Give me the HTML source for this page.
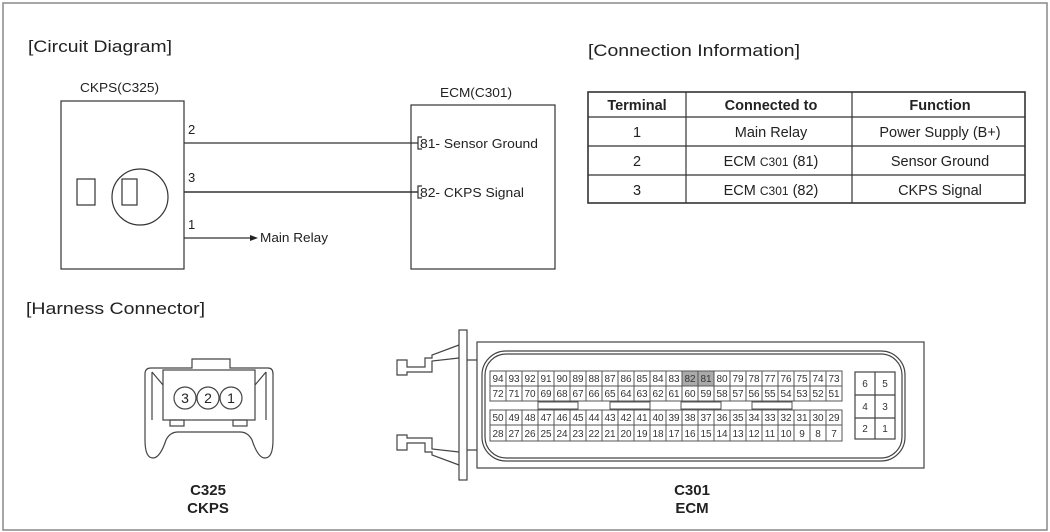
<!DOCTYPE html>
<html><head><meta charset="utf-8"><style>
html,body{margin:0;padding:0;background:#fff;}
svg{display:block;font-family:"Liberation Sans",sans-serif;}
</style></head><body>
<svg width="1050" height="532" viewBox="0 0 1050 532" xmlns="http://www.w3.org/2000/svg">
<rect x="3" y="3" width="1044" height="527" fill="#fff" stroke="#888" stroke-width="1.5"/>
<g fill="#222" font-size="17">
<text x="28" y="52" textLength="144" lengthAdjust="spacingAndGlyphs">[Circuit Diagram]</text>
<text x="588" y="56" textLength="212" lengthAdjust="spacingAndGlyphs">[Connection Information]</text>
<text x="26" y="314" textLength="179" lengthAdjust="spacingAndGlyphs">[Harness Connector]</text>
</g>
<!-- circuit -->
<g stroke="#333" fill="none" stroke-width="1.2">
<rect x="61" y="101" width="123" height="168"/>
<rect x="411" y="105" width="144" height="164"/>
<rect x="77" y="179" width="18" height="26"/>
<circle cx="140" cy="197" r="28"/>
<rect x="122" y="179" width="15" height="26"/>
<line x1="184" y1="143" x2="418" y2="143"/>
<line x1="184" y1="192" x2="418" y2="192" stroke-width="1.6"/>
<line x1="184" y1="238" x2="252" y2="238"/>
<path d="M422 137 H418 V149 H422"/>
<path d="M422 186 H418 V198 H422"/>
</g>
<polygon points="258,238 250,235 250,241" fill="#222"/>
<g fill="#222" font-size="13">
<text x="80" y="92" textLength="79" lengthAdjust="spacingAndGlyphs">CKPS(C325)</text>
<text x="440" y="97" textLength="72" lengthAdjust="spacingAndGlyphs">ECM(C301)</text>
<text x="188" y="134">2</text>
<text x="188" y="182">3</text>
<text x="188" y="229">1</text>
<text x="260" y="242" textLength="68" lengthAdjust="spacingAndGlyphs">Main Relay</text>
<text x="420" y="148" textLength="118" lengthAdjust="spacingAndGlyphs">81- Sensor Ground</text>
<text x="420" y="197" textLength="104" lengthAdjust="spacingAndGlyphs">82- CKPS Signal</text>
</g>
<!-- table -->
<g stroke="#333" fill="none" stroke-width="1.2">
<rect x="588" y="92" width="437" height="111" stroke-width="1.6"/>
<line x1="588" y1="117" x2="1025" y2="117"/>
<line x1="588" y1="146" x2="1025" y2="146"/>
<line x1="588" y1="175" x2="1025" y2="175"/>
<line x1="686" y1="92" x2="686" y2="203"/>
<line x1="852" y1="92" x2="852" y2="203"/>
</g>
<g fill="#222" font-size="14.5" text-anchor="middle">
<g font-weight="bold"><text x="637" y="110">Terminal</text><text x="771" y="110">Connected to</text><text x="940" y="110">Function</text></g>
<text x="637" y="137">1</text><text x="771" y="137">Main Relay</text><text x="940" y="137">Power Supply (B+)</text>
<text x="637" y="166">2</text><text x="771" y="166">ECM <tspan font-size="12">C301</tspan> (81)</text><text x="940" y="166">Sensor Ground</text>
<text x="637" y="195">3</text><text x="771" y="195">ECM <tspan font-size="12">C301</tspan> (82)</text><text x="940" y="195">CKPS Signal</text>
</g>
<!-- CKPS connector -->
<g stroke="#444" fill="none" stroke-width="1.2">
<path d="M192 368 V359 H230 V368 H268 Q273 368 273 374 V440 Q273 458 265 458 Q258 458 252 440 Q248 432 240 432 H178 Q170 432 166 440 Q160 458 153 458 Q145 458 145 440 V374 Q145 368 151 368 Z"/>
<rect x="163" y="370" width="92" height="50"/>
<line x1="152" y1="372" x2="163" y2="385"/><line x1="152" y1="372" x2="152" y2="420"/>
<line x1="266" y1="372" x2="255" y2="385"/><line x1="266" y1="372" x2="266" y2="420"/>
<rect x="170" y="420" width="14" height="6"/><rect x="233" y="420" width="14" height="6"/>
<circle cx="185" cy="398" r="11"/><circle cx="208" cy="398" r="11"/><circle cx="231" cy="398" r="11"/>
</g>
<g fill="#222" font-size="14" text-anchor="middle"><text x="185" y="403">3</text><text x="208" y="403">2</text><text x="231" y="403">1</text></g>
<g fill="#222" font-size="15" font-weight="bold" text-anchor="middle">
<text x="208" y="495">C325</text><text x="208" y="513">CKPS</text>
<text x="692" y="495">C301</text><text x="692" y="513">ECM</text>
</g>
<!-- ECM connector -->
<g stroke="#444" fill="none" stroke-width="1.2">
<rect x="459" y="330" width="8" height="150"/>
<path d="M459 345 L432 355 V358 H425 V367 H407 V360 H397 V375 H407 V372 H432 V361 L459 358"/>
<path d="M459 465 L432 455 V452 H425 V443 H407 V450 H397 V435 H407 V438 H432 V449 L459 452"/>
<path d="M467 360 H477 M467 450 H477"/>
<rect x="477" y="342" width="447" height="126"/>
<rect x="482" y="351" width="423" height="110" rx="24"/>
<rect x="485" y="354" width="417" height="104" rx="21"/>
<rect x="855" y="372" width="40" height="67"/>
<line x1="875" y1="372" x2="875" y2="439"/><line x1="855" y1="395" x2="895" y2="395"/><line x1="855" y1="418" x2="895" y2="418"/>
</g>
<rect x="682" y="371" width="32" height="15" fill="#aaa"/>
<g stroke="#555" fill="none" stroke-width="1">
<rect x="490" y="371" width="352" height="30"/>
<line x1="490" y1="386" x2="842" y2="386"/>
<rect x="490" y="410" width="352" height="31"/>
<line x1="490" y1="425" x2="842" y2="425"/>
<path d="M506 371V401M522 371V401M538 371V401M554 371V401M570 371V401M586 371V401M602 371V401M618 371V401M634 371V401M650 371V401M666 371V401M682 371V401M698 371V401M714 371V401M730 371V401M746 371V401M762 371V401M778 371V401M794 371V401M810 371V401M826 371V401"/>
<path d="M506 410V441M522 410V441M538 410V441M554 410V441M570 410V441M586 410V441M602 410V441M618 410V441M634 410V441M650 410V441M666 410V441M682 410V441M698 410V441M714 410V441M730 410V441M746 410V441M762 410V441M778 410V441M794 410V441M810 410V441M826 410V441"/>
<rect x="538" y="402" width="40" height="7"/><rect x="610" y="402" width="40" height="7"/><rect x="681" y="402" width="40" height="7"/><rect x="752" y="402" width="40" height="7"/>
</g>
<g fill="#333" font-size="10" text-anchor="middle">
<text x="498" y="382">94</text><text x="514" y="382">93</text><text x="530" y="382">92</text><text x="546" y="382">91</text><text x="562" y="382">90</text><text x="578" y="382">89</text><text x="594" y="382">88</text><text x="610" y="382">87</text><text x="626" y="382">86</text><text x="642" y="382">85</text><text x="658" y="382">84</text><text x="674" y="382">83</text><text x="690" y="382">82</text><text x="706" y="382">81</text><text x="722" y="382">80</text><text x="738" y="382">79</text><text x="754" y="382">78</text><text x="770" y="382">77</text><text x="786" y="382">76</text><text x="802" y="382">75</text><text x="818" y="382">74</text><text x="834" y="382">73</text>
<text x="498" y="397">72</text><text x="514" y="397">71</text><text x="530" y="397">70</text><text x="546" y="397">69</text><text x="562" y="397">68</text><text x="578" y="397">67</text><text x="594" y="397">66</text><text x="610" y="397">65</text><text x="626" y="397">64</text><text x="642" y="397">63</text><text x="658" y="397">62</text><text x="674" y="397">61</text><text x="690" y="397">60</text><text x="706" y="397">59</text><text x="722" y="397">58</text><text x="738" y="397">57</text><text x="754" y="397">56</text><text x="770" y="397">55</text><text x="786" y="397">54</text><text x="802" y="397">53</text><text x="818" y="397">52</text><text x="834" y="397">51</text>
<text x="498" y="421">50</text><text x="514" y="421">49</text><text x="530" y="421">48</text><text x="546" y="421">47</text><text x="562" y="421">46</text><text x="578" y="421">45</text><text x="594" y="421">44</text><text x="610" y="421">43</text><text x="626" y="421">42</text><text x="642" y="421">41</text><text x="658" y="421">40</text><text x="674" y="421">39</text><text x="690" y="421">38</text><text x="706" y="421">37</text><text x="722" y="421">36</text><text x="738" y="421">35</text><text x="754" y="421">34</text><text x="770" y="421">33</text><text x="786" y="421">32</text><text x="802" y="421">31</text><text x="818" y="421">30</text><text x="834" y="421">29</text>
<text x="498" y="437">28</text><text x="514" y="437">27</text><text x="530" y="437">26</text><text x="546" y="437">25</text><text x="562" y="437">24</text><text x="578" y="437">23</text><text x="594" y="437">22</text><text x="610" y="437">21</text><text x="626" y="437">20</text><text x="642" y="437">19</text><text x="658" y="437">18</text><text x="674" y="437">17</text><text x="690" y="437">16</text><text x="706" y="437">15</text><text x="722" y="437">14</text><text x="738" y="437">13</text><text x="754" y="437">12</text><text x="770" y="437">11</text><text x="786" y="437">10</text><text x="802" y="437">9</text><text x="818" y="437">8</text><text x="834" y="437">7</text>
<text x="865" y="387">6</text><text x="885" y="387">5</text><text x="865" y="410">4</text><text x="885" y="410">3</text><text x="865" y="432">2</text><text x="885" y="432">1</text>
</g>
</svg>
</body></html>
